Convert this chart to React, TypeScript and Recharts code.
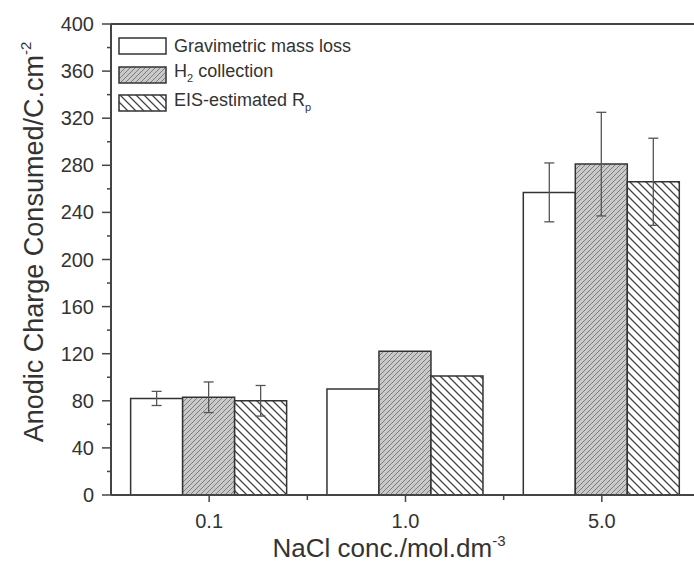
import { BarChart, Bar, XAxis, YAxis, ErrorBar, Legend, ReferenceLine } from 'recharts'

const concentrations = ['0.1', '1.0', '5.0']
const gravimetric = [82, 90, 257]
const gravimetricErr = [6, null, 25]
const h2Collection = [83, 122, 281]
const h2Err = [13, null, 44]
const eisRp = [80, 101, 266]
const eisErr = [13, null, 37]
const yTicks = [0, 20, 40, 60, 80, 100, 120, 140, 160, 180, 200, 220, 240, 260, 280, 300, 320, 340, 360, 380, 400]

const data = concentrations.map((conc, i) => ({
  conc,
  gravimetric: gravimetric[i],
  gravimetricErr: gravimetricErr[i],
  h2: h2Collection[i],
  h2Err: h2Err[i],
  eis: eisRp[i],
  eisErr: eisErr[i],
}))

const FONT = '"Liberation Sans", Arial, Helvetica, sans-serif'
const INK = '#333'
const AXIS = '#444'
const TICK_SIZE = 9
const TICK_MARGIN = 8
const PLOT_LEFT = 111
const PLOT_RIGHT = 700
const BAND = (PLOT_RIGHT - PLOT_LEFT) / concentrations.length

const fills: Record<string, string> = {
  gravimetric: '#ffffff',
  h2: 'url(#hatchH2)',
  eis: 'url(#hatchEis)',
}

// legend rows, in drawing order
const seriesOrder = ['gravimetric', 'h2', 'eis']
const legendLabels: Record<string, JSX.Element> = {
  gravimetric: <span>Gravimetric mass loss</span>,
  h2: <span>H<sub style={{ fontSize: 11 }}>2</sub> collection</span>,
  eis: <span>EIS-estimated R<sub style={{ fontSize: 11 }}>p</sub></span>,
}

function YTick({ x, y, payload }: any) {
  const major = payload.value % 40 === 0
  const axisX = x + TICK_MARGIN + TICK_SIZE
  return (
    <g>
      <line x1={axisX - (major ? TICK_SIZE : 4)} x2={axisX} y1={y} y2={y} stroke={AXIS} strokeWidth={1.5} />
      {major && (
        <text x={x} y={y} dy={7} textAnchor="end" fontSize={20} fill={INK} fontFamily={FONT}>
          {payload.value}
        </text>
      )}
    </g>
  )
}

function XTick({ x, y, payload }: any) {
  const axisY = y - TICK_SIZE - TICK_MARGIN
  const edge = x + BAND / 2
  return (
    <g>
      <line x1={x} x2={x} y1={axisY} y2={axisY + 7} stroke={AXIS} strokeWidth={1.5} />
      <line x1={edge} x2={edge} y1={axisY} y2={axisY + 5} stroke={AXIS} strokeWidth={1.5} />
      <text x={x} y={axisY + 33} textAnchor="middle" fontSize={20} fill={INK} fontFamily={FONT}>
        {payload.value}
      </text>
    </g>
  )
}

function YLabel() {
  const cx = 43
  const cy = 242
  return (
    <text
      x={cx}
      y={cy}
      transform={`rotate(-90 ${cx} ${cy})`}
      textAnchor="middle"
      fontSize={27}
      fill={INK}
      fontFamily={FONT}
    >
      Anodic Charge Consumed/C.cm
      <tspan dy={-12} fontSize={15}>-2</tspan>
    </text>
  )
}

function XLabel() {
  return (
    <text x={389} y={557} textAnchor="middle" fontSize={26} fill={INK} fontFamily={FONT}>
      NaCl conc./mol.dm
      <tspan dy={-11} fontSize={15}>-3</tspan>
    </text>
  )
}

function LegendBox() {
  return (
    <div style={{ fontFamily: FONT, fontSize: 18, color: INK }}>
      {seriesOrder.map((key) => (
        <div key={key} style={{ display: 'flex', alignItems: 'center', height: 28.5 }}>
          <svg width={50} height={20} style={{ marginRight: 6 }}>
            <rect x={1} y={2} width={47} height={16} fill={fills[key]} stroke="#333" strokeWidth={1.5} />
          </svg>
          <span style={{ lineHeight: '20px' }}>{legendLabels[key]}</span>
        </div>
      ))}
    </div>
  )
}

export default function App() {
  return (
    <div style={{ position: 'absolute', left: 0, top: 0, width: 694, height: 570, background: '#fff' }}>
      <BarChart
        width={694}
        height={570}
        data={data}
        margin={{ top: 24, right: -6, bottom: 0, left: 0 }}
        barCategoryGap="10%"
        barGap={0}
      >
        <defs>
          <pattern id="hatchH2" patternUnits="userSpaceOnUse" width={5} height={5}>
            <rect width={5} height={5} fill="#c9c9c9" />
            <path d="M-1,1 l2,-2 M0,5 l5,-5 M4,6 l2,-2" stroke="#7d7d7d" strokeWidth={1} />
          </pattern>
          <pattern id="hatchEis" patternUnits="userSpaceOnUse" width={8} height={8}>
            <rect width={8} height={8} fill="#ffffff" />
            <path d="M-2,6 l4,4 M0,0 l8,8 M6,-2 l4,4" stroke="#444" strokeWidth={1.3} />
          </pattern>
        </defs>
        <XAxis
          dataKey="conc"
          height={75}
          tickSize={TICK_SIZE}
          tickMargin={TICK_MARGIN}
          tickLine={false}
          tick={<XTick />}
          axisLine={{ stroke: AXIS, strokeWidth: 2 }}
          label={<XLabel />}
        />
        <YAxis
          width={PLOT_LEFT}
          domain={[0, 400]}
          ticks={yTicks}
          interval={0}
          tickSize={TICK_SIZE}
          tickMargin={TICK_MARGIN}
          tickLine={false}
          tick={<YTick />}
          axisLine={{ stroke: AXIS, strokeWidth: 2 }}
          label={<YLabel />}
        />
        <ReferenceLine y={400} stroke={AXIS} strokeWidth={2} />
        <Legend
          layout="vertical"
          align="center"
          verticalAlign="middle"
          content={<LegendBox />}
          wrapperStyle={{ top: 32, left: 118, width: 260 }}
        />
        <Bar dataKey="gravimetric" name="Gravimetric mass loss" fill={fills.gravimetric} stroke="#333" strokeWidth={1.5} isAnimationActive={false}>
          <ErrorBar dataKey="gravimetricErr" width={5} stroke="#555" strokeWidth={1.3} />
        </Bar>
        <Bar dataKey="h2" name="H2 collection" fill={fills.h2} stroke="#333" strokeWidth={1.5} isAnimationActive={false}>
          <ErrorBar dataKey="h2Err" width={5} stroke="#555" strokeWidth={1.3} />
        </Bar>
        <Bar dataKey="eis" name="EIS-estimated Rp" fill={fills.eis} stroke="#333" strokeWidth={1.5} isAnimationActive={false}>
          <ErrorBar dataKey="eisErr" width={5} stroke="#555" strokeWidth={1.3} />
        </Bar>
      </BarChart>
    </div>
  )
}
